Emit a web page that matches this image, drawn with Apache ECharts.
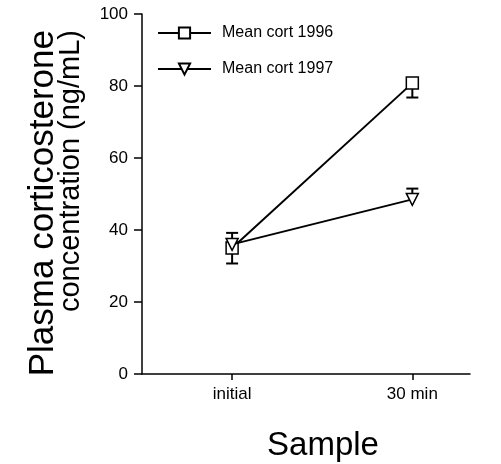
<!DOCTYPE html>
<html><head><meta charset="utf-8">
<script src="https://cdn.jsdelivr.net/npm/echarts@6/dist/echarts.min.js"></script>
<style>html,body{margin:0;padding:0;background:#fff}#c{width:501px;height:464px}</style>
</head><body><div id="c"></div>
<script>
var categories = ['initial', '30 min'];
var xPos = [1, 2];
var mean1996 = [35, 80.8];
var err1996 = [4.3, 4.0];
var mean1997 = [36, 48.5];
var err1997 = [3.2, 3.0];
var yTicks = [0, 20, 40, 60, 80, 100];
var yTitle = ['Plasma corticosterone', 'concentration (ng/mL)'];
var xTitle = 'Sample';

var chart = echarts.init(document.getElementById('c'), null, {renderer: 'canvas'});
var font = 'Liberation Sans, Arial, sans-serif';

function errSeries(name, means, errs, dir) {
  return {
    type: 'custom', name: name + ' err', z: 2, silent: true,
    data: xPos.map(function (x, i) { return [x, means[i], means[i] + dir * errs[i]]; }),
    renderItem: function (params, api) {
      var p0 = api.coord([api.value(0), api.value(1)]);
      var p1 = api.coord([api.value(0), api.value(2)]);
      var s = {stroke: '#000', lineWidth: 2};
      return {type: 'group', children: [
        {type: 'line', shape: {x1: p0[0], y1: p0[1], x2: p1[0], y2: p1[1]}, style: s},
        {type: 'line', shape: {x1: p1[0] - 6, y1: p1[1], x2: p1[0] + 6, y2: p1[1]}, style: s}
      ]};
    }
  };
}

chart.setOption({
  animation: false,
  graphic: [
    {type: 'text', x: 26, y: 30, rotation: Math.PI / 2,
     style: {text: yTitle[0], font: '35px ' + font, fill: '#000', align: 'right', verticalAlign: 'top'}},
    {type: 'text', x: 56, y: 30, rotation: Math.PI / 2,
     style: {text: yTitle[1], font: '29px ' + font, fill: '#000', align: 'right', verticalAlign: 'top'}}
  ],
  grid: {left: 142, right: 31, top: 14, bottom: 90, outerBoundsMode: 'none', containLabel: false},
  legend: {
    orient: 'vertical', left: 152, top: 20, itemGap: 20,
    itemWidth: 53, itemHeight: 14,
    data: ['Mean cort 1996', 'Mean cort 1997'],
    textStyle: {fontFamily: font, fontSize: 16, color: '#000', padding: [0, 0, 0, 6]}
  },
  xAxis: {
    type: 'value', min: 0.5, max: 2.32,
    name: xTitle, nameLocation: 'middle', nameGap: 55,
    nameTextStyle: {fontFamily: font, fontSize: 33, color: '#000', padding: [0, 0, 0, 34]},
    splitLine: {show: false},
    axisLine: {lineStyle: {color: '#000', width: 1.5}},
    axisTick: {customValues: xPos, length: 6, lineStyle: {color: '#000', width: 1.5}},
    axisLabel: {customValues: xPos, fontFamily: font, fontSize: 17, color: '#000', margin: 12,
      formatter: function (v) { return categories[xPos.indexOf(v)] || ''; }}
  },
  yAxis: {
    type: 'value', min: 0, max: 100, interval: 20,
    splitLine: {show: false},
    axisLine: {show: true, lineStyle: {color: '#000', width: 1.5}},
    axisTick: {show: true, length: 8, lineStyle: {color: '#000', width: 1.5}},
    axisLabel: {fontFamily: font, fontSize: 17, color: '#000', margin: 14,
      formatter: function (v) { return yTicks.indexOf(v) >= 0 ? String(v) : ''; }}
  },
  series: [
    errSeries('Mean cort 1996', mean1996, err1996, -1),
    errSeries('Mean cort 1997', mean1997, err1997, 1),
    {
      name: 'Mean cort 1996', type: 'line', z: 3,
      data: xPos.map(function (x, i) { return [x, mean1996[i]]; }),
      symbol: 'rect', symbolSize: 12,
      lineStyle: {color: '#000', width: 2},
      itemStyle: {color: '#fff', borderColor: '#000', borderWidth: 1.5}
    },
    {
      name: 'Mean cort 1997', type: 'line', z: 4,
      data: xPos.map(function (x, i) { return [x, mean1997[i]]; }),
      symbol: 'triangle', symbolRotate: 180, symbolSize: 12,
      lineStyle: {color: '#000', width: 2},
      itemStyle: {color: '#fff', borderColor: '#000', borderWidth: 1.5}
    }
  ]
});
</script></body></html>
